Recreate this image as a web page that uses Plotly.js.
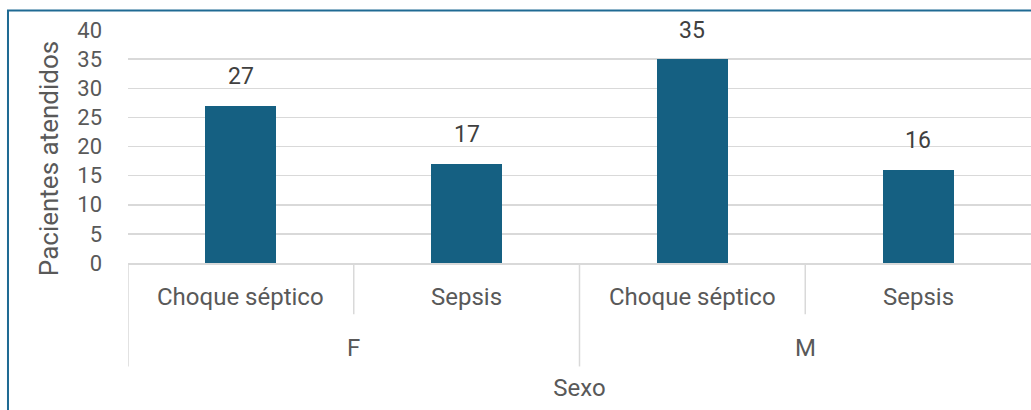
<!DOCTYPE html>
<html>
<head>
<meta charset="utf-8">
<script src="https://cdn.plot.ly/plotly-3.0.1.min.js"></script>
<style>
  html, body { margin: 0; padding: 0; background: #ffffff; }
  #chart { width: 1031px; height: 410px; }
</style>
</head>
<body>
<div id="chart"></div>
<script>
const groups = ["F", "F", "M", "M"];
const subcategories = ["Choque séptico", "Sepsis", "Choque séptico", "Sepsis"];
const values = [27, 17, 35, 16];
const groupLabels = ["F", "M"];
const yTicks = [0, 5, 10, 15, 20, 25, 30, 35, 40];
const yTitle = "Pacientes atendidos";
const xTitle = "Sexo";

const positions = subcategories.map((_, i) => i);
const FONT = "Roboto, 'Noto Sans', sans-serif";
const GRID = "#d9d9d9";
const TXT = "#595959";

const trace = {
  type: "bar",
  x: positions,
  y: values,
  width: 0.315,
  marker: { color: "#156082" },
  hoverinfo: "skip"
};

const annotations = [];
values.forEach((v, i) => {
  annotations.push({
    x: i, y: v, xref: "x", yref: "y",
    text: String(v), showarrow: false,
    yanchor: "middle", yshift: 29,
    font: { family: FONT, size: 23, color: "#404040" }
  });
});
subcategories.forEach((s, i) => {
  annotations.push({
    x: i, y: -0.146, xref: "x", yref: "paper",
    text: s, showarrow: false, yanchor: "middle",
    font: { family: FONT, size: 24, color: TXT }
  });
});
groupLabels.forEach((g) => {
  const idx = groups.map((v, i) => v === g ? i : -1).filter(i => i >= 0);
  const center = (idx[0] + idx[idx.length - 1]) / 2;
  annotations.push({
    x: center, y: -0.365, xref: "x", yref: "paper",
    text: g, showarrow: false, yanchor: "middle",
    font: { family: FONT, size: 24, color: TXT }
  });
});
// y-axis title (rotated)
annotations.push({
  x: -0.0875, y: 0.45, xref: "paper", yref: "paper",
  text: yTitle, showarrow: false, textangle: -90,
  xanchor: "center", yanchor: "middle",
  font: { family: FONT, size: 26, color: TXT }
});

const shapes = [];
for (let i = 0; i < subcategories.length; i++) {
  const bx = i - 0.5;
  const isGroupStart = i === 0 || groups[i] !== groups[i - 1];
  shapes.push({
    type: "line", xref: "x", yref: "paper",
    x0: bx, x1: bx, y0: 0, y1: isGroupStart ? -0.444 : -0.22,
    line: { color: GRID, width: 1.5 }
  });
}
shapes.push({
  type: "rect", xref: "paper", yref: "paper",
  x0: -0.1329, x1: 1.2, y0: -0.8, y1: 1.0835,
  line: { color: "#1f6a93", width: 2 }
});

const layout = {
  width: 1031, height: 410,
  margin: { l: 128, r: 0, t: 30, b: 147 },
  paper_bgcolor: "#ffffff", plot_bgcolor: "#ffffff",
  showlegend: false,
  bargap: 0,
  font: { family: FONT, color: TXT },
  xaxis: {
    range: [-0.5, 3.5],
    showticklabels: false, ticks: "",
    showgrid: false, zeroline: false,
    showline: true, linecolor: GRID, linewidth: 1.5,
    fixedrange: true,
    title: { text: xTitle, font: { family: FONT, size: 24, color: TXT }, standoff: 115 }
  },
  yaxis: {
    range: [0, 40],
    tickvals: yTicks,
    ticktext: yTicks.map(String),
    ticks: "", ticklabelstandoff: 25,
    tickfont: { family: FONT, size: 22, color: TXT },
    showgrid: true, gridcolor: GRID, gridwidth: 1.5,
    zeroline: false, showline: false,
    fixedrange: true
  },
  annotations: annotations,
  shapes: shapes
};

Plotly.newPlot("chart", [trace], layout, { displayModeBar: false, staticPlot: true });
</script>
</body>
</html>
